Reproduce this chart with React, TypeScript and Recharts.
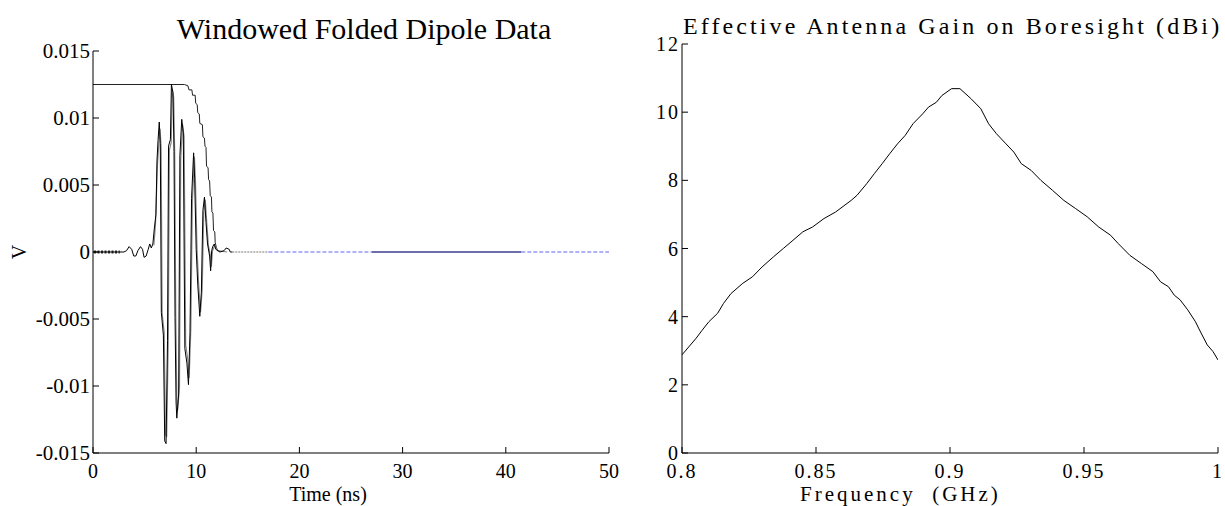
import { LineChart, Line, XAxis, YAxis } from 'recharts';

// Raw folded-dipole pulse, [time ns, volts]
const pulseRaw: [number, number][] = [
  [0, 0], [3.0, 0], [3.25, 0.0001], [3.5, 0.0004], [3.75, 0.0002], [3.95, -0.0003],
  [4.15, -0.0003], [4.35, 0.0001], [4.6, 0.0004], [4.8, 0.0002], [4.95, -0.0004],
  [5.15, -0.0003], [5.35, 0.0002], [5.5, 0.0006], [5.65, 0.0003], [5.8, 0.0006],
  [5.95, 0.0018], [6.1, 0.0028], [6.2, 0.0068], [6.3, 0.0083], [6.42, 0.0097],
  [6.52, 0.0081], [6.62, -0.0045], [6.82, -0.0062], [6.95, -0.0141], [7.08, -0.0143],
  [7.22, -0.0066], [7.32, 0.0079], [7.5, 0.0084], [7.6, 0.0125],
  [7.75, 0.0119], [7.85, 0.0075], [7.95, -0.0049], [8.05, -0.0112], [8.12, -0.0124],
  [8.3, -0.0106], [8.42, 0.0072], [8.6, 0.0099],
  [8.75, 0.0089], [8.9, -0.0072], [9.1, -0.0083], [9.25, -0.0099],
  [9.4, -0.006], [9.55, 0.004], [9.75, 0.0074],
  [9.85, 0.0055], [10.0, 0.0002], [10.15, -0.0024], [10.35, -0.0048],
  [10.5, -0.003], [10.65, 0.0031], [10.8, 0.0041],
  [10.95, 0.0022], [11.1, 0.0006], [11.3, -0.0003], [11.4, -0.0014],
  [11.5, 0.0001], [11.6, 0.0004], [11.75, 0.0006], [11.9, 0.0002], [12.3, 0],
  [12.7, 0.0001], [12.9, 0.0003], [13.2, 0.0002], [13.3, 0], [13.5, 0],
];

// Pulse after windowing
const pulseWindowed: [number, number][] = [
  [5.9, 0.0005], [6.05, 0.002], [6.25, 0.0066], [6.38, 0.008], [6.5, 0.0092],
  [6.6, 0.0078], [6.7, -0.0046], [6.9, -0.006], [7.02, -0.0136], [7.14, -0.0138],
  [7.3, -0.0062], [7.4, 0.0076], [7.58, 0.0082], [7.68, 0.0121],
  [7.82, 0.0115], [7.92, 0.0072], [8.02, -0.0047], [8.12, -0.0108], [8.2, -0.0118],
  [8.38, -0.0101], [8.5, 0.0069], [8.68, 0.0095],
  [8.83, 0.0086], [8.98, -0.0069], [9.18, -0.008], [9.32, -0.0094],
  [9.48, -0.0057], [9.63, 0.0038], [9.83, 0.0071],
  [9.93, 0.0052], [10.08, 0.0002], [10.23, -0.0023], [10.42, -0.0045],
  [10.58, -0.0028], [10.73, 0.0029], [10.88, 0.0039],
  [11.03, 0.0021], [11.18, 0.0005], [11.38, -0.0003], [11.47, -0.0011],
  [11.58, 0.0001], [11.8, 0.0005], [12.1, 0.0001], [13.0, 0],
];

// Window shape (scaled), stepped fall-off
const windowShape: [number, number][] = [
  [0, 0.0125], [8.87, 0.0125], [9.2, 0.0124], [9.3, 0.0121], [9.58, 0.0121],
  [9.65, 0.0117], [9.9, 0.0117], [9.95, 0.0111], [10.1, 0.011], [10.15, 0.0104],
  [10.3, 0.0103], [10.35, 0.0096], [10.6, 0.0095], [10.65, 0.0086], [10.8, 0.0085],
  [10.85, 0.0079], [10.95, 0.0078], [11.0, 0.0064], [11.15, 0.0063], [11.2, 0.0054],
  [11.3, 0.0053], [11.36, 0.0042], [11.48, 0.0041], [11.52, 0.003], [11.62, 0.0029],
  [11.68, 0.0016], [11.8, 0.0015], [11.84, 0.0007], [12.0, 0.0002], [12.3, 0],
];

const noiseStart: [number, number][] = [[0.1, 0], [2.6, 0]];
const tailGray: [number, number][] = [[13.5, 0], [17, 0]];
const tailBlueA: [number, number][] = [[17, 0], [27, 0]];
const tailNavy: [number, number][] = [[27, 0], [41.5, 0]];
const tailBlueB: [number, number][] = [[41.5, 0], [50, 0]];

const timeTicks = [0, 10, 20, 30, 40, 50];
const voltTicks = [-0.015, -0.01, -0.005, 0, 0.005, 0.01, 0.015];

// Effective gain on boresight, [GHz, dBi]
const gainCurve: [number, number][] = [
  [0.8, 2.88], [0.8053, 3.37], [0.8075, 3.6], [0.81, 3.85], [0.8133, 4.1], [0.8155, 4.39],
  [0.8183, 4.68], [0.8227, 4.98], [0.8263, 5.17], [0.8299, 5.46], [0.8342, 5.76],
  [0.8378, 6.0], [0.8414, 6.24], [0.8451, 6.49], [0.8487, 6.63], [0.853, 6.88],
  [0.8573, 7.07], [0.8631, 7.41], [0.8653, 7.56], [0.8689, 7.9], [0.8718, 8.2],
  [0.8747, 8.49], [0.8775, 8.78], [0.8804, 9.07], [0.8833, 9.32], [0.8862, 9.66],
  [0.8898, 9.95], [0.892, 10.15], [0.8949, 10.29], [0.897, 10.49], [0.9006, 10.69],
  [0.9037, 10.69], [0.9079, 10.39], [0.9115, 10.1], [0.9144, 9.66], [0.9173, 9.37],
  [0.9209, 9.07], [0.9238, 8.83], [0.9266, 8.49], [0.9303, 8.29], [0.9339, 8.0],
  [0.9382, 7.71], [0.9425, 7.41], [0.9469, 7.17], [0.9512, 6.93], [0.9555, 6.63],
  [0.9599, 6.39], [0.9627, 6.15], [0.9671, 5.8], [0.9714, 5.56], [0.9757, 5.32],
  [0.9786, 5.02], [0.9815, 4.88], [0.9837, 4.63], [0.9859, 4.49], [0.9887, 4.2],
  [0.9916, 3.85], [0.9931, 3.61], [0.996, 3.17], [0.9981, 2.98], [1.0, 2.73],
];

const freqTicks = [0.8, 0.85, 0.9, 0.95, 1];
const gainTicks = [0, 2, 4, 6, 8, 10, 12];

const SERIF = "'Liberation Serif', 'Times New Roman', serif";

const pts = (arr: [number, number][]) => arr.map(([x, y]) => ({ x, y }));

const fmtVolt = (v: number) => (v === 0 ? '0' : String(Number(v.toFixed(3))));

function PulsePlot() {
  const yTickStyle = { fontSize: 21, fill: '#000', fontFamily: SERIF };
  const xTickStyle = { fontSize: 20, fill: '#000', fontFamily: SERIF };
  return (
    <LineChart width={620} height={506} margin={{ top: 51, right: 11, bottom: 23, left: 13 }}>
      <XAxis
        type="number"
        dataKey="x"
        domain={[0, 50]}
        ticks={timeTicks}
        allowDataOverflow
        height={30}
        tickSize={-6}
        tickMargin={17}
        stroke="#000"
        tick={xTickStyle}
      />
      <YAxis
        type="number"
        dataKey="y"
        domain={[-0.015, 0.015]}
        ticks={voltTicks}
        allowDataOverflow
        width={80}
        tickSize={-6}
        tickMargin={9}
        stroke="#000"
        tick={yTickStyle}
        tickFormatter={fmtVolt}
      />
      <Line data={pts(noiseStart)} dataKey="y" stroke="#333" strokeWidth={3} strokeDasharray="2 1.5" dot={false} isAnimationActive={false} />
      <Line data={pts(windowShape)} dataKey="y" stroke="#222" strokeWidth={1} dot={false} isAnimationActive={false} />
      <Line data={pts(pulseWindowed)} dataKey="y" stroke="#888" strokeWidth={1.2} dot={false} isAnimationActive={false} />
      <Line data={pts(pulseRaw)} dataKey="y" stroke="#000" strokeWidth={1} dot={false} isAnimationActive={false} />
      <Line data={pts(tailGray)} dataKey="y" stroke="#777" strokeWidth={1} strokeDasharray="2 1" dot={false} isAnimationActive={false} />
      <Line data={pts(tailBlueA)} dataKey="y" stroke="#6464f0" strokeWidth={1.2} strokeDasharray="4 2" dot={false} isAnimationActive={false} />
      <Line data={pts(tailNavy)} dataKey="y" stroke="#3c3c8c" strokeWidth={1.5} dot={false} isAnimationActive={false} />
      <Line data={pts(tailBlueB)} dataKey="y" stroke="#6464f0" strokeWidth={1.2} strokeDasharray="4 2" dot={false} isAnimationActive={false} />
    </LineChart>
  );
}

function GainPlot() {
  const tickStyle = { fontSize: 20, fill: '#000', fontFamily: SERIF, letterSpacing: 2 };
  return (
    <LineChart width={605} height={506} margin={{ top: 44, right: 7, bottom: 23, left: 22 }}>
      <XAxis
        type="number"
        dataKey="x"
        domain={[0.8, 1]}
        ticks={freqTicks}
        allowDataOverflow
        height={30}
        tickSize={-6}
        tickMargin={17}
        stroke="#000"
        tick={tickStyle}
      />
      <XAxis
        xAxisId="top"
        orientation="top"
        type="number"
        dataKey="x"
        domain={[0.8, 1]}
        ticks={freqTicks}
        allowDataOverflow
        height={0}
        tickSize={-6}
        stroke="#000"
        tick={false}
      />
      <YAxis
        type="number"
        dataKey="y"
        domain={[0, 12]}
        ticks={gainTicks}
        allowDataOverflow
        width={40}
        tickSize={-6}
        tickMargin={8}
        stroke="#000"
        tick={tickStyle}
      />
      <YAxis
        yAxisId="right"
        orientation="right"
        type="number"
        dataKey="y"
        domain={[0, 12]}
        ticks={gainTicks}
        allowDataOverflow
        width={0}
        tickSize={-6}
        stroke="#000"
        tick={false}
      />
      <Line data={pts(gainCurve)} dataKey="y" stroke="#000" strokeWidth={1} dot={false} isAnimationActive={false} />
    </LineChart>
  );
}

export default function App() {
  return (
    <div style={{ position: 'absolute', left: 0, top: 0, width: 1225, height: 506, background: '#fff', overflow: 'hidden', fontFamily: SERIF }}>
      <div style={{ position: 'absolute', left: 0, top: 0 }}>
        <PulsePlot />
      </div>
      <div style={{ position: 'absolute', left: 620, top: 0 }}>
        <GainPlot />
      </div>
      <svg width={1225} height={506} style={{ position: 'absolute', left: 0, top: 0, pointerEvents: 'none' }}>
        <g style={{ fontFamily: SERIF }} fill="#000">
          <text x={364} y={39} fontSize={30} textAnchor="middle">Windowed Folded Dipole Data</text>
          <text x={328} y={501} fontSize={20} textAnchor="middle">Time (ns)</text>
          <text x={19} y={252} fontSize={20} textAnchor="middle" dominantBaseline="central" transform="rotate(-90 19 252)">V</text>
          <text x={683} y={34} fontSize={24} letterSpacing={3.1}>Effective Antenna Gain on Boresight (dBi)</text>
          <text x={800} y={501} fontSize={21} letterSpacing={3}>{'Frequency\u00a0\u00a0(GHz)'}</text>
        </g>
      </svg>
    </div>
  );
}
